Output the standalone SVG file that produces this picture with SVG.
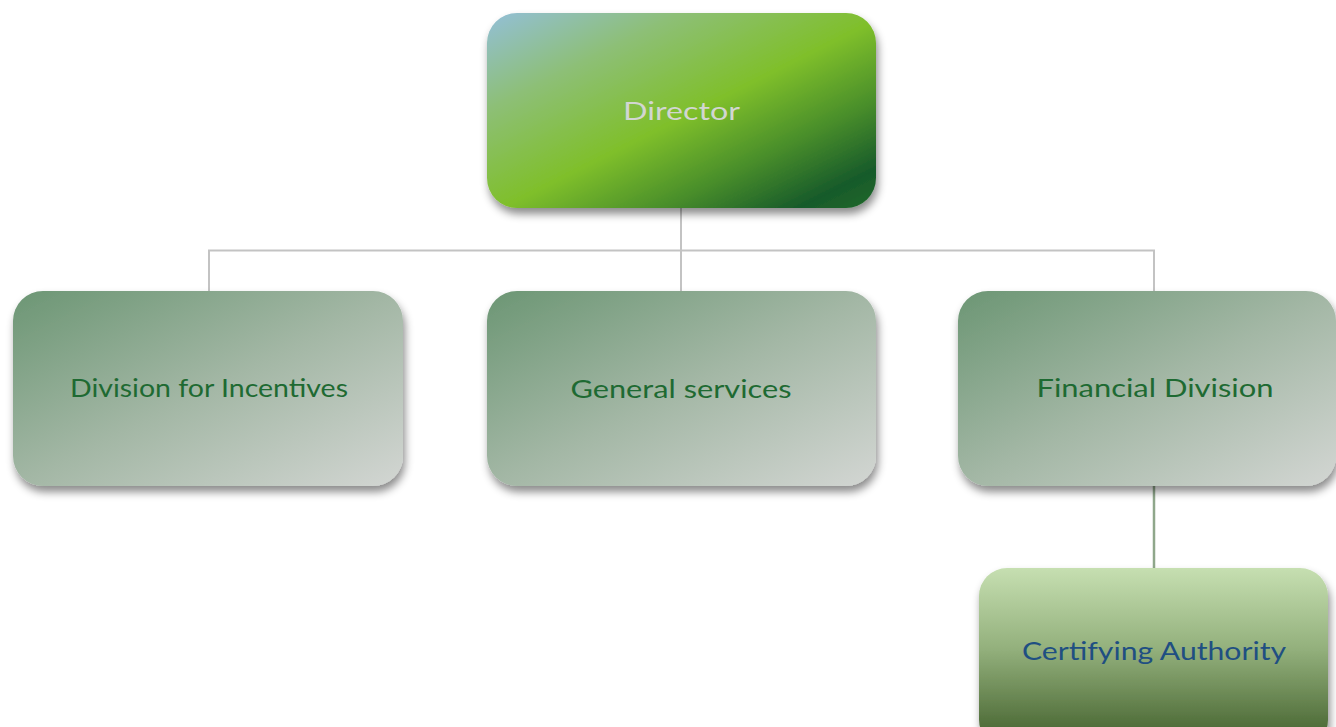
<svg xmlns="http://www.w3.org/2000/svg" width="1336" height="727" viewBox="0 0 1336 727">
  <defs>
    <linearGradient id="gDir" x1="0" y1="0" x2="1" y2="1">
      <stop offset="0" stop-color="#93bfd8"/>
      <stop offset="0.25" stop-color="#8dbf76"/>
      <stop offset="0.52" stop-color="#7fbf2a"/>
      <stop offset="0.72" stop-color="#4a8f2c"/>
      <stop offset="0.9" stop-color="#175a2a"/>
      <stop offset="1" stop-color="#236a2a"/>
    </linearGradient>
    <linearGradient id="gMid" x1="0" y1="0" x2="1" y2="1">
      <stop offset="0" stop-color="#6c9674"/>
      <stop offset="0.5" stop-color="#a3b7a5"/>
      <stop offset="1" stop-color="#d3d6d3"/>
    </linearGradient>
    <linearGradient id="gCert" x1="0" y1="0" x2="0" y2="1">
      <stop offset="0" stop-color="#c6dfb1"/>
      <stop offset="0.45" stop-color="#93b07c"/>
      <stop offset="1" stop-color="#3e5c28"/>
    </linearGradient>
    <filter id="sh" x="-10%" y="-10%" width="125%" height="130%">
      <feDropShadow dx="2" dy="6" stdDeviation="4" flood-color="#000" flood-opacity="0.45"/>
    </filter>
  </defs>
  <style>
    .lbl { font-family: Lato, "Open Sans", "Liberation Sans", sans-serif; font-size: 25px; text-anchor: middle; }
    .mid { fill: #1e6a32; }
    .conn { fill: none; stroke: #c3c3c3; stroke-width: 2; }
  </style>
  <rect width="1336" height="727" fill="#ffffff"/>
  <g id="connectors">
    <path class="conn" d="M681 208 V291 M209 291 V250.5 H1154 V291"/>
    <path d="M1154 486 V569" fill="none" stroke="#8fa78b" stroke-width="2.5"/>
  </g>
  <g id="director">
    <rect x="487" y="13" width="389" height="195" rx="30" fill="url(#gDir)" filter="url(#sh)"/>
    <text class="lbl" x="681.5" y="120" fill="#d2d6d2" font-size="30" textLength="117" lengthAdjust="spacingAndGlyphs">Director</text>
  </g>
  <g id="division-incentives">
    <rect x="13" y="291" width="390" height="195" rx="30" fill="url(#gMid)" filter="url(#sh)"/>
    <text class="lbl mid" x="209" y="397" textLength="278" lengthAdjust="spacingAndGlyphs">Division for Incentives</text>
  </g>
  <g id="general-services">
    <rect x="487" y="291" width="389" height="195" rx="30" fill="url(#gMid)" filter="url(#sh)"/>
    <text class="lbl mid" x="681" y="398" textLength="221" lengthAdjust="spacingAndGlyphs">General services</text>
  </g>
  <g id="financial-division">
    <rect x="958" y="291" width="378" height="195" rx="30" fill="url(#gMid)" filter="url(#sh)"/>
    <text class="lbl mid" x="1155" y="397" textLength="237" lengthAdjust="spacingAndGlyphs">Financial Division</text>
  </g>
  <g id="certifying-authority">
    <rect x="979" y="568" width="349" height="180" rx="28" fill="url(#gCert)" filter="url(#sh)"/>
    <text class="lbl" x="1154" y="660" fill="#1f4f82" textLength="264" lengthAdjust="spacingAndGlyphs">Certifying Authority</text>
  </g>
</svg>
